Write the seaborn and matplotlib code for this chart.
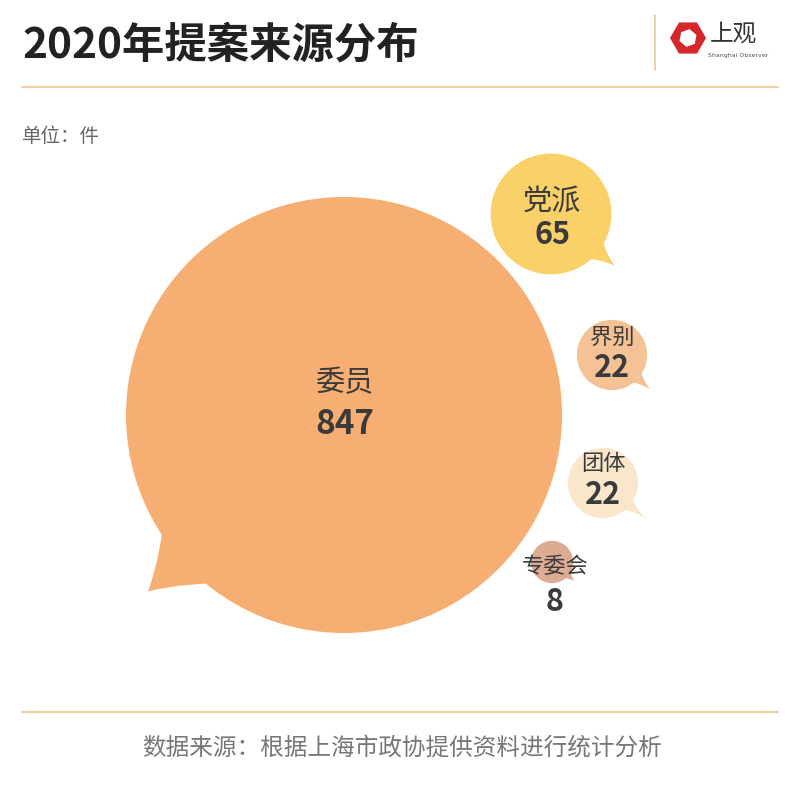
import numpy as np
import pandas as pd
import seaborn as sns
import matplotlib.pyplot as plt
from matplotlib.path import Path
from matplotlib.patches import PathPatch, RegularPolygon

# ---- data ----
categories = ["委员", "党派", "界别", "团体", "专委会"]
values = [847, 65, 22, 22, 8]
title = "2020年提案来源分布"
unit_text = "单位：件"
source_text = "数据来源：根据上海市政协提供资料进行统计分析"

# ---- layout / style (pixel coordinates, y downward) ----
center_x = [344, 551, 612, 603, 552]
center_y = [415, 214, 355, 483, 562]
colors = ["#F6AE73", "#FAD068", "#F4C294", "#F9E6CB", "#DDAB91"]
tail_angle = [138, 39, 42, 40, 40]
tail_len = [1.21, 1.36, 1.46, 1.56, 1.40]
label_dy = [-32, -12, -18, -20, 5]
value_dy = [10, 21, 13, 12, 40]
label_dx = [1, 1, 0, 0, 3]
label_fs = [21, 21, 16, 16, 16]
value_fs = [24, 22, 22, 22, 22]

W, H = 800, 799
R_MAX = 218.0  # pixel radius of the largest bubble
V_MAX = 847.0

sns.set_theme(style="white")
plt.rcParams['font.family'] = ['Noto Sans CJK SC', 'DejaVu Sans']

fig = plt.figure(figsize=(8, 7.99), dpi=100)
ax = fig.add_axes([0, 0, 1, 1])
ax.set_xlim(0, W)
ax.set_ylim(H, 0)
ax.axis('off')

df = pd.DataFrame({"category": categories, "value": values,
                   "x": center_x, "y": center_y})

# area-proportional bubbles: marker area (pt^2) proportional to value
smax = (2 * R_MAX * 72 / 100) ** 2
sns.scatterplot(data=df, x="x", y="y", size="value", sizes=(0, smax),
                size_norm=(0, V_MAX), hue="category",
                palette=dict(zip(categories, colors)), linewidth=0,
                legend=False, ax=ax, zorder=2)

# speech-bubble tails
for i, v in enumerate(values):
    r = R_MAX * np.sqrt(v / V_MAX)
    cx, cy = center_x[i], center_y[i]
    a = np.deg2rad(tail_angle[i])
    w = np.deg2rad(17)

    def pt(rad, ang):
        return (cx + rad * np.cos(ang), cy + rad * np.sin(ang))

    b1 = pt(0.9 * r, a - w)
    b2 = pt(0.9 * r, a + w)
    tip = pt(tail_len[i] * r, a)
    c1 = pt(1.06 * r, a - w * 0.25)
    c2 = pt(1.06 * r, a + w * 0.25)
    verts = [b1, c1, tip, c2, b2, pt(0.5 * r, a), b1]
    codes = [Path.MOVETO, Path.CURVE3, Path.CURVE3, Path.CURVE3, Path.CURVE3,
             Path.LINETO, Path.CLOSEPOLY]
    ax.add_patch(PathPatch(Path(verts, codes), facecolor=colors[i],
                           edgecolor='none', zorder=2))

# labels
for i, (c, v) in enumerate(zip(categories, values)):
    ax.text(center_x[i] + label_dx[i], center_y[i] + label_dy[i], c,
            ha='center', va='center', fontsize=label_fs[i], color='#3A3A3A',
            zorder=4)
    ax.text(center_x[i] + label_dx[i], center_y[i] + value_dy[i], str(v),
            ha='center', va='center', fontsize=value_fs[i], color='#3A3A3A',
            fontweight='bold', zorder=4)

# header
ax.text(22, 45, title, ha='left', va='center', fontsize=30.5,
        fontweight='bold', color='#222222')
ax.plot([22, 778], [87, 87], color='#F2CFA4', lw=1.6)
ax.plot([655, 655], [15, 70], color='#EBC49A', lw=1.2)

# logo
ax.add_patch(RegularPolygon((688, 38), numVertices=6, radius=18,
                            orientation=np.deg2rad(30), facecolor='#D5262C',
                            edgecolor='none'))
ax.add_patch(RegularPolygon((688, 38), numVertices=6, radius=9,
                            orientation=np.deg2rad(10), facecolor='white',
                            edgecolor='none'))
ax.text(733, 34, "上观", ha='center', va='center', fontsize=17,
        color='#333333')
ax.text(738, 56, "Shanghai Observer", ha='center', va='center',
        fontsize=4.5, color='#555555', family=['DejaVu Sans'])

ax.text(22, 137, unit_text, ha='left', va='center', fontsize=14,
        color='#666666')

# footer
ax.plot([22, 778], [712, 712], color='#F2CFA4', lw=1.6)
ax.text(402, 748, source_text, ha='center', va='center', fontsize=17,
        color='#777777')

fig.savefig("out.png", dpi=100)
